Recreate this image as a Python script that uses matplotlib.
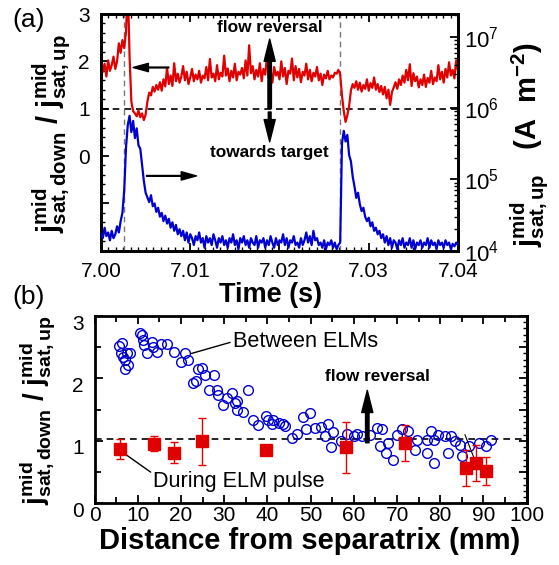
import numpy as np
import matplotlib
matplotlib.use("Agg")
import matplotlib.pyplot as plt
import matplotlib.transforms as mtransforms
from matplotlib.ticker import MultipleLocator, FixedLocator, FormatStrFormatter, LogLocator, NullFormatter

plt.rcParams['font.family'] = ['Liberation Sans', 'DejaVu Sans']
plt.rcParams['mathtext.fontset'] = 'custom'
plt.rcParams['mathtext.rm'] = 'Liberation Sans'
plt.rcParams['mathtext.bf'] = 'Liberation Sans:bold'
plt.rcParams['mathtext.it'] = 'Liberation Sans:italic'

# ---------------- data: panel (a) ----------------
t_start = 7.0000
t_step = 0.0002
ratio_t = [
    1.85, 1.78, 1.95, 1.68, 2.02, 1.80, 1.92, 2.10, 1.84, 2.00,
    2.38, 2.18, 2.45, 2.28, 2.62, 3.60, 2.10, 1.15, 0.95, 0.90,
    0.84, 0.96, 0.82, 0.90, 0.76, 0.88, 1.15, 1.34, 1.28, 1.46,
    1.36, 1.50, 1.40, 1.56, 1.38, 1.62, 1.47, 1.86, 1.52, 1.70,
    1.48, 1.96, 1.58, 1.74, 1.55, 1.68, 1.90, 1.60, 1.78, 1.52,
    1.66, 1.84, 1.58, 1.72, 1.62, 1.80, 1.55, 1.70, 1.64, 1.88,
    1.60, 2.05, 1.66, 1.74, 1.58, 1.92, 1.62, 1.76, 1.68, 2.12,
    1.70, 1.85, 1.58, 1.80, 1.66, 1.95, 1.60, 1.78, 1.72, 1.86,
    1.64, 2.02, 1.70, 2.34, 1.75, 1.90, 1.62, 1.82, 1.68, 1.96,
    1.58, 1.84, 1.72, 2.10, 1.66, 1.80, 1.55, 1.88, 1.70, 1.78,
    1.62, 2.00, 1.68, 1.86, 1.52, 1.80, 1.74, 2.06, 1.60, 1.90,
    1.66, 1.84, 1.56, 1.78, 1.70, 1.95, 1.62, 1.82, 1.58, 1.76,
    1.68, 1.88, 1.60, 1.74, 1.50, 1.72, 1.64, 1.80, 1.62, 1.70,
    1.66, 1.76, 1.74, 1.82, 1.72, 1.28, 0.95, 0.72, 0.86, 1.05,
    1.38, 1.52, 1.44, 1.58, 1.40, 1.55, 1.36, 1.50, 1.42, 1.62,
    1.38, 1.54, 1.44, 1.66, 1.40, 1.52, 1.35, 1.48, 1.30, 1.46,
    1.22, 1.40, 1.08, 1.35, 1.45, 1.56, 1.42, 1.62, 1.50, 1.70,
    1.55, 1.82, 1.60, 1.94, 1.48, 1.75, 1.58, 1.68, 1.45, 1.62,
    1.50, 1.72, 1.46, 1.65, 1.55, 1.80, 1.52, 1.66, 1.58, 1.92,
    1.62, 1.78, 1.55, 1.84, 1.66, 1.98, 1.70, 1.82, 1.64, 2.02, 1.80,
]
# j_sat,up in units of 1e4 A m^-2
jsat_1e4 = [
    1.7, 1.5, 2.1, 1.6, 1.8, 1.4, 1.9, 1.5, 1.7, 2.2,
    1.8, 2.6, 3.4, 7.0, 28, 58, 78, 46, 66, 38,
    52, 30, 27, 16, 9.5, 6.5, 5.6, 4.8, 6.0, 4.2,
    4.6, 3.5, 4.0, 3.0, 3.4, 2.6, 3.1, 2.4, 2.8, 2.1,
    2.5, 1.9, 2.3, 1.7, 2.0, 1.6, 1.9, 1.4, 1.8, 1.3,
    1.7, 1.5, 1.2, 1.6, 1.4, 1.8, 1.3, 1.5, 1.1, 1.6,
    1.3, 1.5, 1.2, 1.7, 1.4, 1.1, 1.5, 1.3, 1.6, 1.2,
    1.4, 1.1, 1.5, 1.3, 1.7, 1.2, 1.4, 1.05, 1.5, 1.3,
    1.6, 1.2, 1.4, 1.1, 1.5, 1.3, 1.2, 1.6, 1.1, 1.4,
    1.3, 1.5, 1.1, 1.4, 1.2, 1.6, 1.3, 1.1, 1.5, 1.2,
    1.4, 1.3, 1.7, 1.2, 1.5, 1.1, 1.4, 1.3, 1.6, 1.2,
    1.3, 1.1, 1.5, 1.2, 1.4, 1.8, 1.3, 1.6, 1.2, 1.9,
    1.4, 1.5, 1.2, 1.3, 1.1, 1.4, 1.05, 1.3, 1.2, 1.4,
    1.1, 1.3, 1.05, 1.2, 1.3, 32, 48, 34, 42, 22,
    18, 11, 8.0, 5.5, 6.5, 4.5, 3.6, 4.0, 3.0, 2.6,
    2.9, 2.2, 2.5, 1.9, 2.1, 1.7, 1.9, 1.5, 1.7, 1.3,
    1.6, 1.2, 1.5, 1.1, 1.4, 1.3, 1.05, 1.4, 1.2, 1.5,
    1.1, 1.3, 1.2, 1.5, 1.1, 1.4, 1.05, 1.3, 1.2, 1.4,
    1.1, 1.3, 1.2, 1.5, 1.1, 1.4, 1.2, 1.3, 1.05, 1.4,
    1.2, 1.3, 1.1, 1.4, 1.2, 1.3, 1.05, 1.25, 1.15, 1.3, 1.2,
]
elm_times = [7.0026, 7.0268]
time_ticks = [7.00, 7.01, 7.02, 7.03, 7.04]

# ---------------- data: panel (b) ----------------
between_d = [6.4, 5.7, 6.0, 6.6, 7.4, 8.2, 7.6, 6.9, 7.0,
             10.5, 10.9, 11.1, 11.4, 12.2, 13.2, 13.6, 14.4, 15.3, 16.8,
             18.4, 19.9, 20.9, 21.7, 22.8, 23.4, 23.8, 24.8, 25.5, 27.6,
             26.5, 28.2, 28.6, 29.8, 30.7, 31.7, 32.5, 32.9, 33.0, 34.4,
             35.6, 36.6, 37.8, 39.7, 40.2, 41.0, 41.3, 42.7, 43.5, 44.0,
             45.6, 46.8, 48.3, 49.8, 49.0, 51.0, 52.5, 53.3, 54.1, 55.2,
             54.8, 57.0, 58.3, 60.0, 60.8, 61.8, 63.7, 65.4, 66.4, 66.0,
             67.4, 67.9, 69.1, 69.9, 71.1, 72.6, 74.1, 74.5, 76.9, 76.9,
             77.8, 78.5, 78.5, 79.5, 81.1, 81.8, 82.4, 83.4, 84.6, 85.0,
             86.7, 89.0, 90.6, 91.7]
between_r = [2.56, 2.52, 2.41, 2.35, 2.40, 2.40, 2.22, 2.15, 2.30,
             2.73, 2.70, 2.62, 2.54, 2.40, 2.59, 2.51, 2.43, 2.55, 2.55,
             2.43, 2.27, 2.40, 2.30, 1.93, 1.96, 2.15, 2.16, 2.05, 2.06,
             1.81, 1.81, 1.73, 1.57, 1.68, 1.76, 1.60, 1.49, 1.64, 1.47,
             1.81, 1.33, 1.26, 1.40, 1.33, 1.27, 1.34, 1.28, 1.27, 1.24,
             1.04, 1.11, 1.39, 1.45, 1.19, 1.20, 1.23, 1.07, 1.27, 1.15,
             0.90, 0.99, 1.11, 1.07, 1.11, 1.08, 1.10, 1.20, 1.19, 0.91,
             0.80, 0.96, 0.70, 1.09, 1.19, 1.16, 0.85, 1.01, 1.01, 0.81,
             1.16, 1.01, 0.65, 1.09, 1.07, 0.80, 1.07, 0.99, 0.93, 0.76,
             0.91, 0.97, 0.91, 1.01]
during_d = [5.9, 13.8, 18.4, 24.8, 39.6, 58.1, 71.8, 85.9, 88.3, 90.6]
during_r = [0.87, 0.95, 0.81, 0.99, 0.85, 0.90, 0.96, 0.57, 0.64, 0.52]
during_err = [0.16, 0.12, 0.17, 0.37, 0.06, 0.41, 0.29, 0.29, 0.29, 0.22]
dash_level_b = 1.03

RED = '#e00000'
BLUE = '#0000d0'
TICK_FS = 15

t = t_start + t_step * np.arange(len(ratio_t))
jsat = np.array(jsat_1e4) * 1e4

fig = plt.figure(figsize=(5.59, 5.65), dpi=100)

# ---------------- panel (a) ----------------
ax1 = fig.add_axes([0.1807, 0.5563, 0.6386, 0.4189])
ax1.plot(t, ratio_t, color=RED, lw=1.6, zorder=3)
ax1.set_xlim(7.0, 7.04)
ax1.set_ylim(-2, 3)
ax1.yaxis.set_major_locator(FixedLocator([-1, 0, 1, 2, 3]))
ax1.set_yticklabels(['', '0', '1', '2', '3'])
ax1.yaxis.set_minor_locator(MultipleLocator(0.2))
ax1.xaxis.set_major_locator(FixedLocator(time_ticks))
ax1.xaxis.set_major_formatter(FormatStrFormatter('%.2f'))
ax1.xaxis.set_minor_locator(MultipleLocator(0.01 / 12))
ax1.axhline(1.0, color='black', lw=1.2, ls=(0, (4, 3)), zorder=2)
for te in elm_times:
    ax1.axvline(te, color='#777777', lw=1.0, ls=(0, (4, 3)), zorder=2)
ax1.tick_params(which='both', direction='in', top=True, right=False, labelsize=TICK_FS)
ax1.tick_params(which='major', length=6, width=1.3)
ax1.tick_params(which='minor', length=3, width=1.0)
ax1.tick_params(axis='x', pad=8)
ax1.tick_params(axis='y', pad=8)

ax2 = ax1.twinx()
ax2.set_yscale('log')
ax2.plot(t, jsat, color=BLUE, lw=1.6, zorder=3)
ax2.set_ylim(1e4, 10 ** 7.32)
ax2.yaxis.set_major_locator(LogLocator(base=10, numticks=10))
ax2.yaxis.set_minor_locator(LogLocator(base=10, subs=np.arange(2, 10), numticks=20))
ax2.yaxis.set_minor_formatter(NullFormatter())
ax2.tick_params(which='both', direction='in', labelsize=16, pad=4)
ax2.tick_params(which='major', length=6, width=1.3)
ax2.tick_params(which='minor', length=3, width=1.0)
for ax in (ax1, ax2):
    for s in ax.spines.values():
        s.set_linewidth(2)

# annotations panel (a)
ax1.text(7.0189, 2.72, 'flow reversal', ha='center', va='center', fontsize=12.4, fontweight='bold')
ax1.text(7.0189, 0.08, 'towards target', ha='center', va='center', fontsize=12.4, fontweight='bold')
ax1.annotate('', xy=(7.0189, 2.47), xytext=(7.0189, 1.0),
             arrowprops=dict(width=2.5, headwidth=8, headlength=16, facecolor='black', edgecolor='black'))
ax1.annotate('', xy=(7.0189, 0.30), xytext=(7.0189, 0.93),
             arrowprops=dict(width=2.0, headwidth=8, headlength=16, facecolor='black', edgecolor='black'))
ax1.annotate('', xy=(7.0036, 1.87), xytext=(7.0076, 1.87),
             arrowprops=dict(width=0.6, headwidth=6, headlength=11, facecolor='black', edgecolor='black'))
ax1.annotate('', xy=(7.0107, -0.42), xytext=(7.0051, -0.42),
             arrowprops=dict(width=0.6, headwidth=6, headlength=11, facecolor='black', edgecolor='black'))

fig.text(29 / 559, 1 - 20 / 565, '(a)', fontsize=19, ha='center', va='center')
fig.text(271 / 559, 1 - 295 / 565, 'Time (s)', fontsize=19.5, fontweight='bold', ha='center', va='center')
fig.text(52 / 559, 1 - 134 / 565,
         r'$\mathbf{j_{sat,down}^{mid}}$ $\mathbf{/}$ $\mathbf{j_{sat,up}^{mid}}$',
         fontsize=21, rotation=90, ha='center', va='center')
fig.text(530 / 559, 1 - 145 / 565,
         r'$\mathbf{j_{sat,up}^{mid}}$   $\mathbf{(A\ \ m^{-2})}$',
         fontsize=21, rotation=90, ha='center', va='center')

# ---------------- panel (b) ----------------
ax3 = fig.add_axes([0.1694, 0.1092, 0.7728, 0.3315])
ax3.axhline(dash_level_b, color='black', lw=1.2, ls=(0, (4, 3)), zorder=1)
ax3.plot(between_d, between_r, 'o', mfc='none', mec=BLUE, ms=7, mew=1.0, zorder=3)
ax3.errorbar(during_d, during_r, yerr=during_err, fmt='s', color=RED, ms=8.5,
             capsize=3, elinewidth=1.0, capthick=1.0, zorder=4)
ax3.set_xlim(0, 100)
ax3.set_ylim(0, 3)
ax3.xaxis.set_major_locator(MultipleLocator(10))
ax3.xaxis.set_minor_locator(MultipleLocator(5))
ax3.yaxis.set_major_locator(MultipleLocator(1))
ax3.yaxis.set_minor_locator(MultipleLocator(0.5))
ax3.tick_params(which='both', direction='in', top=True, right=False, labelsize=TICK_FS)
ax3.tick_params(which='major', length=6, width=1.3)
ax3.tick_params(which='minor', length=4, width=1.3)
ax3.tick_params(axis='x', pad=2)
ax3.tick_params(axis='y', pad=8)
sec = ax3.secondary_yaxis('right')
sec.yaxis.set_major_locator(MultipleLocator(0.5))
sec.yaxis.set_minor_locator(MultipleLocator(0.1))
sec.tick_params(which='both', direction='in', labelright=False)
sec.tick_params(which='major', length=6, width=1.3)
sec.tick_params(which='minor', length=3, width=1.0)
for s in ax3.spines.values():
    s.set_linewidth(2)
sec.spines['right'].set_linewidth(2)
shift = mtransforms.ScaledTranslation(0, -6 / 100, fig.dpi_scale_trans)
for lab in ax3.get_yticklabels():
    lab.set_transform(lab.get_transform() + shift)

ax3.annotate('Between ELMs', xy=(22.4, 2.40), xytext=(32.0, 2.59), fontsize=15.6,
             ha='left', va='center',
             arrowprops=dict(arrowstyle='-', lw=1.0, color='black', shrinkA=0, shrinkB=0, relpos=(0, 0.5)))
ax3.annotate('During ELM pulse', xy=(6.2, 0.83), xytext=(13.6, 0.35), fontsize=15.6,
             ha='left', va='center',
             arrowprops=dict(arrowstyle='-', lw=1.0, color='black', shrinkA=0, shrinkB=0, relpos=(0, 0.85)))
ax3.text(65.4, 2.03, 'flow reversal', ha='center', va='center', fontsize=12.3, fontweight='bold')
ax3.annotate('', xy=(63.1, 1.81), xytext=(63.1, 0.97),
             arrowprops=dict(width=2.5, headwidth=8, headlength=16, facecolor='black', edgecolor='black'))
ax3.annotate('', xy=(88.0, 0.69), xytext=(85.7, 1.10),
             arrowprops=dict(arrowstyle='-', lw=0.8, color='black', shrinkA=0, shrinkB=0))

fig.text(29 / 559, 1 - 297 / 565, '(b)', fontsize=19, ha='center', va='center')
fig.text(310 / 559, 1 - 541 / 565, 'Distance from separatrix (mm)', fontsize=21,
         fontweight='bold', ha='center', va='center')
fig.text(37 / 559, 1 - 410 / 565,
         r'$\mathbf{j_{sat,down}^{mid}}$ $\mathbf{/}$ $\mathbf{j_{sat,up}^{mid}}$',
         fontsize=20, rotation=90, ha='center', va='center')

fig.savefig('out.png', dpi=100)
